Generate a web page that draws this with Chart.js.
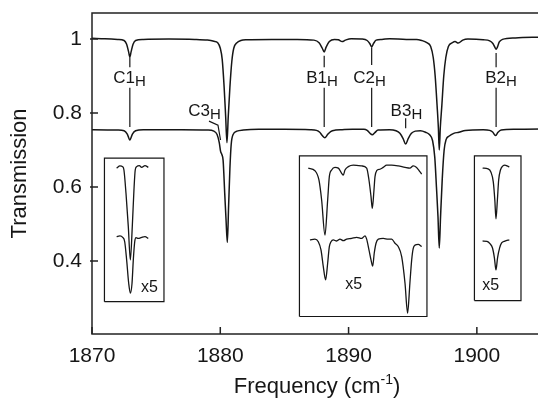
<!DOCTYPE html>
<html>
<head>
<meta charset="utf-8">
<script src="https://cdn.jsdelivr.net/npm/chart.js@4"></script>
<style>
  html, body { margin: 0; padding: 0; background: #fff; overflow: hidden; }
</style>
</head>
<body>
<canvas id="chart" width="545" height="400"></canvas>
<script>
// axis ticks
const xTicks = [1870, 1880, 1890, 1900];
const yTicks = [0.4, 0.6, 0.8, 1];

// main spectra [frequency, transmission]
const upperTrace = [
  [1870.0, 1.002], [1871.0, 1.001], [1872.0, 0.999], [1872.5, 0.996], [1872.7, 0.986], [1872.85, 0.966],
  [1872.95, 0.951], [1873.05, 0.966], [1873.2, 0.986], [1873.4, 0.996], [1874.0, 0.999], [1876.0, 1.0],
  [1878.0, 0.999], [1879.0, 0.997], [1879.5, 0.994], [1879.8, 0.99], [1880.0, 0.975], [1880.15, 0.945],
  [1880.3, 0.87], [1880.42, 0.79], [1880.52, 0.72], [1880.62, 0.79], [1880.75, 0.87], [1880.9, 0.94],
  [1881.05, 0.975], [1881.3, 0.99], [1881.6, 0.996], [1882.0, 0.998], [1884.0, 0.999], [1886.0, 0.999],
  [1887.3, 0.997], [1887.7, 0.99], [1887.95, 0.975], [1888.1, 0.965], [1888.25, 0.978], [1888.5, 0.993],
  [1888.9, 0.999], [1889.2, 0.998], [1889.5, 0.993], [1889.75, 0.997], [1890.2, 1.001], [1891.0, 1.0],
  [1891.45, 0.996], [1891.65, 0.988], [1891.8, 0.979], [1891.95, 0.988], [1892.15, 0.997], [1892.6, 0.999],
  [1893.2, 1.001], [1894.5, 0.999], [1895.3, 0.999], [1895.7, 0.996], [1896.1, 0.99], [1896.4, 0.98],
  [1896.6, 0.95], [1896.75, 0.9], [1896.9, 0.82], [1897.0, 0.76], [1897.07, 0.70], [1897.15, 0.76],
  [1897.27, 0.82], [1897.42, 0.9], [1897.58, 0.95], [1897.78, 0.98], [1898.1, 0.99], [1898.3, 0.993],
  [1898.55, 0.989], [1898.9, 0.997], [1899.3, 1.0], [1900.5, 0.998], [1901.0, 0.995], [1901.25, 0.988],
  [1901.4, 0.978], [1901.5, 0.972], [1901.6, 0.978], [1901.75, 0.992], [1902.0, 0.999], [1903.0, 1.003],
  [1905.0, 1.005]
];
const lowerTrace = [
  [1870.0, 0.755], [1872.0, 0.754], [1872.5, 0.752], [1872.75, 0.743], [1872.95, 0.727], [1873.15, 0.743],
  [1873.4, 0.752], [1874.0, 0.755], [1877.0, 0.755], [1879.0, 0.754], [1879.5, 0.751], [1879.75, 0.742],
  [1879.92, 0.72], [1880.02, 0.697], [1880.12, 0.688], [1880.22, 0.672], [1880.35, 0.58], [1880.45, 0.51],
  [1880.55, 0.45], [1880.65, 0.55], [1880.75, 0.65], [1880.85, 0.715], [1881.0, 0.742], [1881.3, 0.751],
  [1881.8, 0.754], [1883.0, 0.756], [1885.0, 0.756], [1887.0, 0.755], [1887.5, 0.753], [1887.75, 0.748],
  [1887.95, 0.739], [1888.15, 0.733], [1888.35, 0.741], [1888.6, 0.75], [1889.0, 0.754], [1889.5, 0.755],
  [1890.3, 0.756], [1891.2, 0.756], [1891.45, 0.753], [1891.65, 0.746], [1891.85, 0.741], [1892.05, 0.747],
  [1892.3, 0.754], [1893.2, 0.755], [1893.7, 0.752], [1894.0, 0.745], [1894.25, 0.731], [1894.45, 0.716],
  [1894.65, 0.731], [1894.9, 0.745], [1895.2, 0.751], [1895.6, 0.752], [1896.0, 0.748], [1896.3, 0.742],
  [1896.55, 0.725], [1896.72, 0.68], [1896.85, 0.60], [1896.97, 0.52], [1897.07, 0.435], [1897.17, 0.52],
  [1897.3, 0.62], [1897.45, 0.70], [1897.6, 0.728], [1897.85, 0.738], [1898.2, 0.745], [1898.6, 0.748],
  [1899.1, 0.753], [1900.5, 0.755], [1901.0, 0.753], [1901.25, 0.748], [1901.45, 0.739], [1901.65, 0.748],
  [1901.9, 0.754], [1903.0, 0.756], [1905.0, 0.757]
];

// x5 insets, as plotted
const inset1Upper = [
  [1871.92, 0.651], [1872.18, 0.657], [1872.39, 0.655], [1872.49, 0.646], [1872.65, 0.583], [1872.83, 0.493],
  [1872.99, 0.403], [1873.14, 0.493], [1873.27, 0.592], [1873.37, 0.646], [1873.48, 0.655], [1873.69, 0.658],
  [1873.87, 0.653], [1874.13, 0.658], [1874.39, 0.653]
];
const inset1Lower = [
  [1871.92, 0.466], [1872.18, 0.468], [1872.39, 0.464], [1872.55, 0.452], [1872.7, 0.403], [1872.86, 0.34],
  [1872.99, 0.313], [1873.12, 0.34], [1873.22, 0.403], [1873.33, 0.452], [1873.43, 0.463], [1873.61, 0.461],
  [1873.87, 0.464], [1874.13, 0.466], [1874.39, 0.461]
];
const inset2Upper = [
  [1886.86, 0.651], [1887.38, 0.644], [1887.69, 0.619], [1887.9, 0.565], [1888.16, 0.47], [1888.37, 0.565],
  [1888.5, 0.628], [1888.68, 0.646], [1888.94, 0.653], [1889.2, 0.651], [1889.46, 0.637], [1889.59, 0.632],
  [1889.72, 0.646], [1889.98, 0.655], [1890.37, 0.659], [1891.02, 0.657], [1891.41, 0.651], [1891.59, 0.619],
  [1891.75, 0.574], [1891.85, 0.542], [1891.98, 0.592], [1892.06, 0.628], [1892.19, 0.644], [1892.45, 0.648],
  [1892.7, 0.653], [1892.97, 0.659], [1893.36, 0.659], [1893.87, 0.657], [1894.4, 0.653], [1894.78, 0.651],
  [1895.04, 0.657], [1895.3, 0.653], [1895.57, 0.641], [1895.7, 0.635]
];
const inset2Lower = [
  [1886.99, 0.457], [1887.38, 0.459], [1887.64, 0.452], [1887.85, 0.43], [1888.03, 0.385], [1888.21, 0.349],
  [1888.37, 0.394], [1888.5, 0.439], [1888.63, 0.452], [1888.81, 0.457], [1889.07, 0.454], [1889.33, 0.459],
  [1889.59, 0.455], [1889.85, 0.459], [1890.24, 0.461], [1890.63, 0.464], [1891.02, 0.461], [1891.28, 0.468],
  [1891.41, 0.459], [1891.59, 0.43], [1891.75, 0.403], [1891.88, 0.386], [1892.0, 0.421], [1892.14, 0.448],
  [1892.32, 0.459], [1892.7, 0.461], [1893.09, 0.459], [1893.36, 0.459], [1893.62, 0.448], [1893.87, 0.439],
  [1894.14, 0.412], [1894.4, 0.34], [1894.6, 0.259], [1894.78, 0.34], [1894.92, 0.403], [1895.04, 0.434],
  [1895.18, 0.443], [1895.43, 0.445], [1895.7, 0.439]
];
const inset3Upper = [
  [1900.45, 0.651], [1900.87, 0.649], [1901.1, 0.64], [1901.28, 0.614], [1901.4, 0.565], [1901.49, 0.514],
  [1901.6, 0.565], [1901.7, 0.619], [1901.84, 0.646], [1902.03, 0.657], [1902.19, 0.659], [1902.35, 0.657],
  [1902.53, 0.654]
];
const inset3Lower = [
  [1900.45, 0.454], [1900.79, 0.453], [1901.02, 0.447], [1901.22, 0.435], [1901.37, 0.408], [1901.49, 0.376],
  [1901.61, 0.408], [1901.77, 0.435], [1901.93, 0.449], [1902.19, 0.454], [1902.53, 0.457]
];

// inset frames [xMin, xMax, yMin, yMax] and their x5 tags
const insetBoxes = [
  [1870.97, 1875.61, 0.29, 0.678],
  [1886.17, 1896.11, 0.25, 0.684],
  [1899.81, 1903.44, 0.293, 0.684]
];
const magTagX = [1874.48, 1890.4, 1901.08];
const magTagY = [0.328, 0.335, 0.334];

// peak assignments
const peakNames = ['C1', 'C3', 'B1', 'C2', 'B3', 'B2'];
const peakLabelX = [1872.92, 1878.77, 1887.93, 1891.63, 1894.51, 1901.88];
const peakLabelY = [0.894, 0.805, 0.894, 0.894, 0.805, 0.894];
const leaderLines = [
  [[1872.95, 0.951], [1872.95, 0.924]], [[1872.95, 0.868], [1872.95, 0.762]],
  [[1879.12, 0.778], [1879.82, 0.767], [1880.02, 0.727]],
  [[1888.1, 0.955], [1888.1, 0.924]], [[1888.1, 0.868], [1888.1, 0.762]],
  [[1891.8, 0.978], [1891.8, 0.93]], [[1891.8, 0.868], [1891.8, 0.762]],
  [[1894.45, 0.786], [1894.45, 0.759]],
  [[1901.5, 0.962], [1901.5, 0.924]], [[1901.5, 0.868], [1901.5, 0.762]]
];

const FONT = '"Liberation Sans", Arial, Helvetica, sans-serif';
const INK = '#161616';
const toXY = pts => pts.map(p => ({ x: p[0], y: p[1] }));

const spectrum = (pts, w) => ({
  data: toXY(pts), borderColor: INK, borderWidth: w, pointRadius: 0,
  cubicInterpolationMode: 'monotone', fill: false
});
const straight = (pts, w) => ({
  data: toXY(pts), borderColor: INK, borderWidth: w, pointRadius: 0, tension: 0, fill: false
});

const datasets = [
  spectrum(upperTrace, 1.5), spectrum(lowerTrace, 1.5),
  spectrum(inset1Upper, 1.3), spectrum(inset1Lower, 1.3),
  spectrum(inset2Upper, 1.3), spectrum(inset2Lower, 1.3),
  spectrum(inset3Upper, 1.3), spectrum(inset3Lower, 1.3)
];
insetBoxes.forEach(b => {
  datasets.push(straight([[b[0], b[2]], [b[1], b[2]], [b[1], b[3]], [b[0], b[3]], [b[0], b[2]]], 1.2));
});
leaderLines.forEach(l => datasets.push(straight(l, 1.2)));

const decor = {
  id: 'decor',
  afterDatasetsDraw(chart) {
    const { ctx, chartArea: a, scales: { x, y } } = chart;
    ctx.save();
    ctx.strokeStyle = '#222';
    ctx.lineWidth = 1.5;
    ctx.strokeRect(a.left, a.top, a.right - a.left, a.bottom - a.top);

    // ticks point inwards
    ctx.beginPath();
    xTicks.forEach(v => {
      const px = x.getPixelForValue(v);
      ctx.moveTo(px, a.bottom);
      ctx.lineTo(px, a.bottom - 7);
    });
    yTicks.forEach(v => {
      const py = y.getPixelForValue(v);
      ctx.moveTo(a.left - 2, py);
      ctx.lineTo(a.left + 6, py);
    });
    ctx.stroke();

    ctx.fillStyle = INK;
    ctx.textBaseline = 'middle';
    ctx.textAlign = 'left';
    peakNames.forEach((name, i) => {
      const cx = x.getPixelForValue(peakLabelX[i]);
      const cy = y.getPixelForValue(peakLabelY[i]);
      ctx.font = '17px ' + FONT;
      const w1 = ctx.measureText(name).width;
      ctx.font = '15px ' + FONT;
      const w2 = ctx.measureText('H').width;
      const x0 = cx - (w1 + w2) / 2;
      ctx.font = '17px ' + FONT;
      ctx.fillText(name, x0, cy);
      ctx.font = '15px ' + FONT;
      ctx.fillText('H', x0 + w1, cy + 4);
    });

    ctx.textAlign = 'center';
    ctx.font = '16px ' + FONT;
    magTagX.forEach((v, i) => {
      ctx.fillText('x5', x.getPixelForValue(v), y.getPixelForValue(magTagY[i]));
    });

    // axis titles
    ctx.font = '22px ' + FONT;
    ctx.save();
    ctx.translate(20, (a.top + a.bottom) / 2);
    ctx.rotate(-Math.PI / 2);
    ctx.fillText('Transmission', 0, 0);
    ctx.restore();

    const base = 393;
    ctx.textBaseline = 'alphabetic';
    ctx.textAlign = 'left';
    ctx.font = '22px ' + FONT;
    const t1 = 'Frequency (cm';
    const w1 = ctx.measureText(t1).width;
    const w3 = ctx.measureText(')').width;
    ctx.font = '14px ' + FONT;
    const w2 = ctx.measureText('-1').width;
    const tx = 317 - (w1 + w2 + w3) / 2;
    ctx.font = '22px ' + FONT;
    ctx.fillText(t1, tx, base);
    ctx.font = '14px ' + FONT;
    ctx.fillText('-1', tx + w1, base - 9);
    ctx.font = '22px ' + FONT;
    ctx.fillText(')', tx + w1 + w2, base);
    ctx.restore();
  }
};

new Chart(document.getElementById('chart').getContext('2d'), {
  type: 'line',
  data: { datasets },
  options: {
    responsive: false,
    animation: false,
    layout: { padding: { left: 0, top: 13, right: 4, bottom: 0 } },
    plugins: { legend: { display: false }, tooltip: { enabled: false } },
    scales: {
      x: {
        type: 'linear', min: 1870, max: 1905,
        afterBuildTicks: s => { s.ticks = xTicks.map(v => ({ value: v })); },
        afterFit: s => { s.height = 66; s.paddingLeft = 0; s.paddingRight = 0; },
        grid: { display: false, drawTicks: false },
        border: { display: false },
        ticks: {
          padding: 10, color: INK, maxRotation: 0, font: { family: FONT, size: 21 },
          callback: v => String(v)
        }
      },
      y: {
        type: 'linear', min: 0.2027, max: 1.0703,
        afterBuildTicks: s => { s.ticks = yTicks.map(v => ({ value: v })); },
        afterFit: s => { s.width = 92; s.paddingTop = 0; s.paddingBottom = 0; },
        grid: { display: false, drawTicks: false },
        border: { display: false },
        ticks: {
          padding: 10, color: INK, font: { family: FONT, size: 21 },
          callback: v => String(Math.round(v * 10) / 10)
        }
      }
    }
  },
  plugins: [decor]
});
</script>
</body>
</html>
